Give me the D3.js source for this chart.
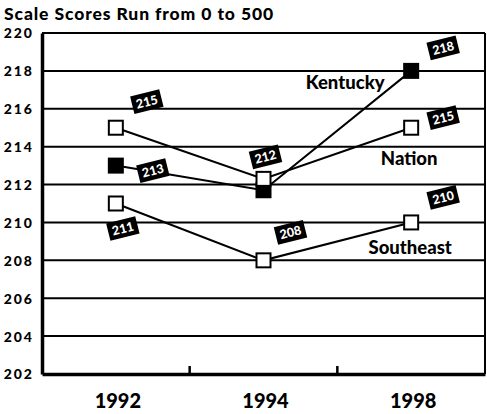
<!DOCTYPE html>
<html><head><meta charset="utf-8">
<script src="https://cdn.jsdelivr.net/npm/d3@7"></script>
<style>body{margin:0;background:#fff}svg{display:block}text{font-family:Lato,"Open Sans",sans-serif;font-weight:900}</style>
</head><body><svg id="c" width="487" height="414"></svg>
<script>
const years = ["1992","1994","1998"];
const kentucky = [213, 211.7, 218];
const nation = [215, 212.3, 215];
const southeast = [211, 208, 210];
const yTicks = [202,204,206,208,210,212,214,216,218,220];
const kentuckyLabels = ["213", null, "218"];
const nationLabels = ["215", "212", "215"];
const southeastLabels = ["211", "208", "210"];
const seriesNames = ["Kentucky","Nation","Southeast"];
const title = "Scale Scores Run from 0 to 500";

const svg = d3.select("#c");
const L=42, R=485, T=33, B=374;
const x = d3.scaleBand().domain(years).range([L,R]);
const y = d3.scaleLinear().domain([202,220]).range([B,T]);
const cx = d => x(d)+x.bandwidth()/2;

svg.append("text").attr("x",4).attr("y",20).attr("font-size",17.5).attr("letter-spacing",0.9).text(title);

// gridlines
svg.append("g").selectAll("line").data(yTicks.filter(v=>v>202)).join("line")
  .attr("x1",L).attr("x2",R).attr("y1",d=>y(d)).attr("y2",d=>y(d))
  .attr("stroke","#000").attr("stroke-width",2);
// frame
svg.append("line").attr("x1",R).attr("x2",R).attr("y1",T).attr("y2",B).attr("stroke","#000").attr("stroke-width",2);
// y axis
const ya = svg.append("g").attr("transform",`translate(${L},0)`)
  .call(d3.axisLeft(y).tickValues(yTicks).tickSize(0).tickPadding(8).tickFormat(d3.format("d")));
ya.select(".domain").attr("stroke","#000").attr("stroke-width",3.5);
ya.selectAll("text").attr("font-size",14).attr("font-family","Lato,sans-serif").attr("font-weight",900).attr("fill","#000").attr("letter-spacing",2).attr("dy","0.35em");
// x axis
const xa = svg.append("g").attr("transform",`translate(0,${B})`)
  .call(d3.axisBottom(x).tickSize(0).tickPadding(20));
xa.select(".domain").attr("stroke","#000").attr("stroke-width",3.5);
xa.selectAll("text").attr("font-size",20).attr("font-family","Lato,sans-serif").attr("font-weight",900).attr("fill","#000").attr("dx",2);
// boundary ticks
svg.append("g").selectAll("line").data(years.slice(1)).join("line")
  .attr("x1",d=>x(d)).attr("x2",d=>x(d)).attr("y1",B).attr("y2",B-8)
  .attr("stroke","#000").attr("stroke-width",2.5);

const series = [
  {vals:kentucky, labels:kentuckyLabels, fill:"#000"},
  {vals:nation, labels:nationLabels, fill:"#fff"},
  {vals:southeast, labels:southeastLabels, fill:"#fff"}
];
const line = d3.line().x((d,i)=>cx(years[i])).y(d=>y(d));
series.forEach(s=>{
  svg.append("path").attr("d",line(s.vals)).attr("fill","none").attr("stroke","#000").attr("stroke-width",2);
});
series.forEach(s=>{
  svg.append("g").selectAll("rect").data(s.vals).join("rect")
    .attr("x",(d,i)=>cx(years[i])-7).attr("y",d=>y(d)-7).attr("width",14).attr("height",14)
    .attr("fill",s.fill).attr("stroke","#000").attr("stroke-width",2);
});
// value labels (offsets are layout only)
const offsets = [
  [[37,5],null,[32,-23]],
  [[31,-26],[2,-22],[32,-10]],
  [[7,25],[27,-28],[32,-25]]
];
series.forEach((s,si)=>{
  s.vals.forEach((v,i)=>{
    const lab = s.labels[i]; if(!lab) return;
    const o = offsets[si][i];
    const g = svg.append("g").attr("transform",`translate(${cx(years[i])+o[0]},${y(v)+o[1]}) rotate(-14)`);
    g.append("rect").attr("x",-15).attr("y",-9).attr("width",30).attr("height",18).attr("fill","#000");
    g.append("text").attr("text-anchor","middle").attr("dy","0.36em").attr("fill","#fff").attr("font-size",12.5).text(lab);
  });
});
// series names (positions are layout only)
const namePos = [[cx("1998")-66, 217.37],[cx("1998")-2, 213.4],[cx("1998")-1, 208.7]];
seriesNames.forEach((n,i)=>{
  svg.append("text").attr("x",namePos[i][0]).attr("y",y(namePos[i][1])).attr("text-anchor","middle")
    .attr("dy","0.35em").attr("font-size",18.5).text(n);
});
</script></body></html>
